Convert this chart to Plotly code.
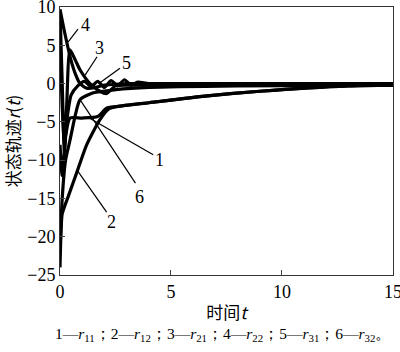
import plotly.graph_objects as go

# ---- data ----
t1 = [0, 0.1, 0.25, 0.45, 1.0, 1.7, 2.1, 2.5, 4, 6.3, 9, 13, 15]
r11 = [-8, -12, -7, -4.5, -4.5, -4.3, -3.2, -3.0, -2.5, -1.7, -1.0, -0.3, -0.2]

t2 = [0, 0.05, 0.1, 0.4, 0.77, 1.2, 1.8, 2.2, 2.6, 4, 6.3, 9, 13, 15]
r12 = [-24, -19, -17, -14.5, -11.5, -8, -4.7, -3.3, -3.0, -2.5, -1.7, -1.0, -0.3, -0.2]

t3 = [0, 0.1, 0.2, 0.3, 0.45, 0.7, 0.9, 1.35, 1.8, 2.1, 2.5, 3, 4, 6, 10, 15]
r21 = [9.5, 0, -9, -3, 4.4, 3, 1.8, 0, -1, -1.3, -0.3, -0.2, -0.2, -0.2, -0.2, -0.2]

t4 = [0, 0.15, 0.32, 0.5, 0.7, 0.9, 1.2, 1.6, 2, 2.5, 3, 4, 6, 10, 15]
r22 = [9.7, 7.5, 5.2, 3, 1.2, 0, -0.6, -0.5, -0.2, -0.1, 0, 0, 0, 0, 0]

t5 = [0, 0.1, 0.2, 0.3, 0.5, 0.8, 1.1, 1.4, 1.7, 2.0, 2.3, 2.6, 2.9, 3.2, 3.5, 4, 6, 10, 15]
r31 = [5, -3, -8, -5, -1.5, -0.3, 0.3, -0.4, 0.3, -0.5, 0.4, -0.3, 0.5, -0.2, 0.2, 0, 0, 0, 0]

t6 = [0, 0.1, 0.25, 0.45, 0.7, 0.9, 1.5, 2.5, 4, 8, 15]
r32 = [-22, -15, -10, -7.4, -4, -2.1, -1.2, -0.8, -0.5, -0.3, -0.2]

series = [(t1, r11), (t2, r12), (t3, r21), (t4, r22), (t5, r31), (t6, r32)]

# curve labels: text position, leader start, leader end (data units)
label_text = ["1", "2", "3", "4", "5", "6"]
label_xy = [(4.5, -10.0), (2.34, -18.1), (1.8, 4.6), (1.13, 7.6), (3.0, 2.7), (3.6, -14.8)]
leader_from = [(4.2, -9.3), (2.1, -16.8), (1.67, 3.5), (0.81, 7.1), (2.7, 2.0), (3.4, -13.0)]
leader_to = [(1.26, -4.4), (0.77, -11.3), (1.13, 1.1), (0.36, 5.4), (1.8, 0.1), (0.9, -2.1)]

x_ticks = [0, 5, 10, 15]
y_ticks = [-25, -20, -15, -10, -5, 0, 5, 10]

fig = go.Figure()
for tx, ry in series:
    fig.add_trace(go.Scatter(x=tx, y=ry, mode="lines",
                             line=dict(color="black", width=3.2, shape="spline", smoothing=0.6),
                             showlegend=False, hoverinfo="skip"))

for txt, (lx, ly), (fx, fy), (ex, ey) in zip(label_text, label_xy, leader_from, leader_to):
    fig.add_shape(type="line", x0=fx, y0=fy, x1=ex, y1=ey, xref="x", yref="y",
                  line=dict(color="black", width=1.2))
    fig.add_annotation(x=lx, y=ly, text=txt, showarrow=False, xref="x", yref="y",
                       font=dict(family="Liberation Serif", size=18, color="black"))

serif = "Liberation Serif"
fig.update_layout(
    width=400, height=352,
    margin=dict(l=60, r=7, t=7, b=77),
    paper_bgcolor="white", plot_bgcolor="white",
    xaxis=dict(range=[0, 15.001], tickvals=x_ticks, ticks="inside", ticklen=5,
               showgrid=False, zeroline=False, showline=True, linecolor="#333",
               linewidth=1, mirror=True, ticklabeloverflow="allow", automargin=False,
               tickfont=dict(family=serif, size=18, color="black"),
               title=dict(text="时间<i>t</i>", standoff=6,
                          font=dict(family="Noto Sans CJK SC", size=17, color="black"))),
    yaxis=dict(range=[-25.001, 10.001], tickvals=y_ticks, ticks="inside", ticklen=5,
               showgrid=False, zeroline=False, showline=True, linecolor="#333",
               linewidth=1, mirror=True, ticklabeloverflow="allow", automargin=False,
               tickfont=dict(family=serif, size=18, color="black"),
               title=dict(text="状态轨迹<i>r</i>(<i>t</i>)", standoff=4,
                          font=dict(family="Noto Sans CJK SC", size=17, color="black"))),
)

legend_txt = ("1—<i>r</i><sub>11</sub>；2—<i>r</i><sub>12</sub>；3—<i>r</i><sub>21</sub>；"
              "4—<i>r</i><sub>22</sub>；5—<i>r</i><sub>31</sub>；6—<i>r</i><sub>32</sub>。")
fig.add_annotation(x=0.49, y=-0.18, xref="paper", yref="paper", yanchor="top",
                   text=legend_txt, showarrow=False, xanchor="center",
                   font=dict(family=serif, size=15.5, color="black"))

fig.write_html("out.html")
